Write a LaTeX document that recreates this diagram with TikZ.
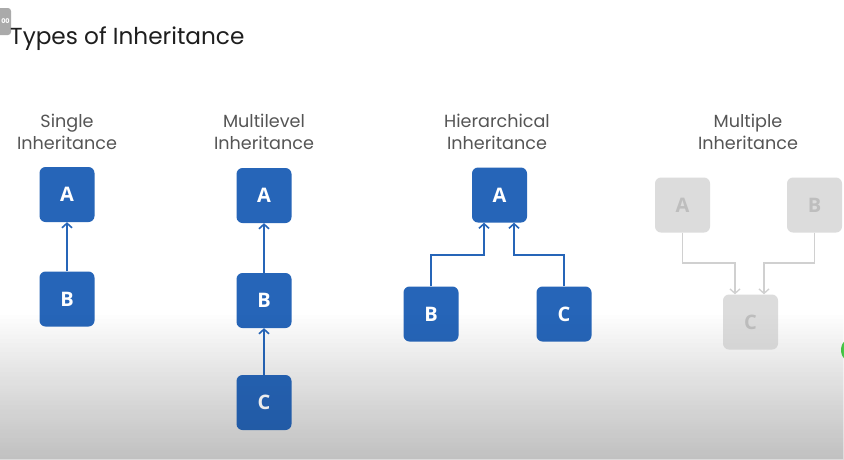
\documentclass[tikz,border=0pt]{standalone}
\usepackage{fontspec}
\setmainfont{Poppins}
\newfontfamily\boxfont{Open Sans}
\usetikzlibrary{arrows.meta,fadings}
\definecolor{classblue}{RGB}{38,101,184}
\definecolor{labelgray}{RGB}{85,85,85}
\definecolor{titlegray}{RGB}{30,30,30}
\definecolor{ghostbox}{RGB}{220,220,220}
\definecolor{ghosttext}{RGB}{190,190,190}
\definecolor{ghostline}{RGB}{208,208,208}
\definecolor{badgegray}{RGB}{170,170,170}
\definecolor{dotgreen}{RGB}{70,200,70}
\begin{document}
\begin{tikzpicture}[x=1pt,y=-1pt,
  cls/.style={draw=none,fill=classblue,rounded corners=6pt,minimum width=55pt,minimum height=55pt,inner sep=0pt,
    text=white,font=\boxfont\bfseries\fontsize{20}{22}\selectfont},
  ghost/.style={cls,fill=ghostbox,text=ghosttext},
  link/.style={draw=classblue,line width=1.8pt,-{Straight Barb[length=4.5pt,width=10pt,line width=1.6pt]}},
  ghostlink/.style={draw=ghostline,line width=1.5pt,-{Straight Barb[length=4.5pt,width=10pt,line width=1.3pt]}},
  kind/.style={anchor=base,inner sep=0pt,text=labelgray,font=\fontsize{17.6}{19}\selectfont}]
\useasboundingbox (0,0) rectangle (844,459);
% page background with soft gray band at the bottom
\fill[white] (0,0) rectangle (844,459);
\shade[top color=white,bottom color=black!14] (0,312) rectangle (844,459);

% corner badge and green dot, both cut by the page edge
\begin{scope}
  \clip (0,0) rectangle (844,459);
  \fill[badgegray,rounded corners=3pt] (-8,8) rectangle (11,35);
  \fill[dotgreen] (855,350) circle (14);
\end{scope}
\node[inner sep=0pt,text=white,font=\fontsize{6.5}{7}\selectfont\bfseries] (badge) at (5.5,21) {00};
\node[anchor=base west,inner sep=0pt,text=titlegray,font=\fontsize{23.2}{26}\selectfont] (title) at (10,44) {Types of Inheritance};

% single inheritance
\node[kind] (sl1) at (67,127) {Single};
\node[kind] (sl2) at (67,149) {Inheritance};
\node[cls] (sA) at (67,194.5) {A};
\node[cls] (sB) at (67,299) {B};
\draw[link] (sB.north) -- (sA.south);

% multilevel inheritance
\node[kind] (ml1) at (264,127) {Multilevel};
\node[kind] (ml2) at (264,149) {Inheritance};
\node[cls] (mlA) at (264,195.5) {A};
\node[cls] (mlB) at (264,300.5) {B};
\node[cls] (mlC) at (264,402.5) {C};
\draw[link] (mlB.north) -- (mlA.south);
\draw[link] (mlC.north) -- (mlB.south);

% hierarchical inheritance
\node[kind] (hl1) at (497,127) {Hierarchical};
\node[kind] (hl2) at (497,149) {Inheritance};
\node[cls] (hA) at (499.5,195) {A};
\node[cls] (hB) at (431,314) {B};
\node[cls] (hC) at (564,314) {C};
\coordinate (hj1) at (484,255);
\coordinate (hj2) at (514,255);
\draw[link] (hB.north) |- (hj1) -- (hj1 |- hA.south);
\draw[link] (hC.north) |- (hj2) -- (hj2 |- hA.south);

% multiple inheritance
\node[kind] (pl1) at (748,127) {Multiple};
\node[kind] (pl2) at (748,149) {Inheritance};
\node[ghost] (pA) at (682.5,205) {A};
\node[ghost] (pB) at (814.5,205) {B};
\node[ghost] (pC) at (750.5,322) {C};
\coordinate (pj1) at (735,263);
\coordinate (pj2) at (764,263);
\draw[ghostlink] (pA.south) |- (pj1) -- (pj1 |- pC.north);
\draw[ghostlink] (pB.south) |- (pj2) -- (pj2 |- pC.north);

% slight darkening of everything towards the bottom edge
\fill[black,opacity=0.12,path fading=north] (0,312) rectangle (844,459);
\end{tikzpicture}
\end{document}
